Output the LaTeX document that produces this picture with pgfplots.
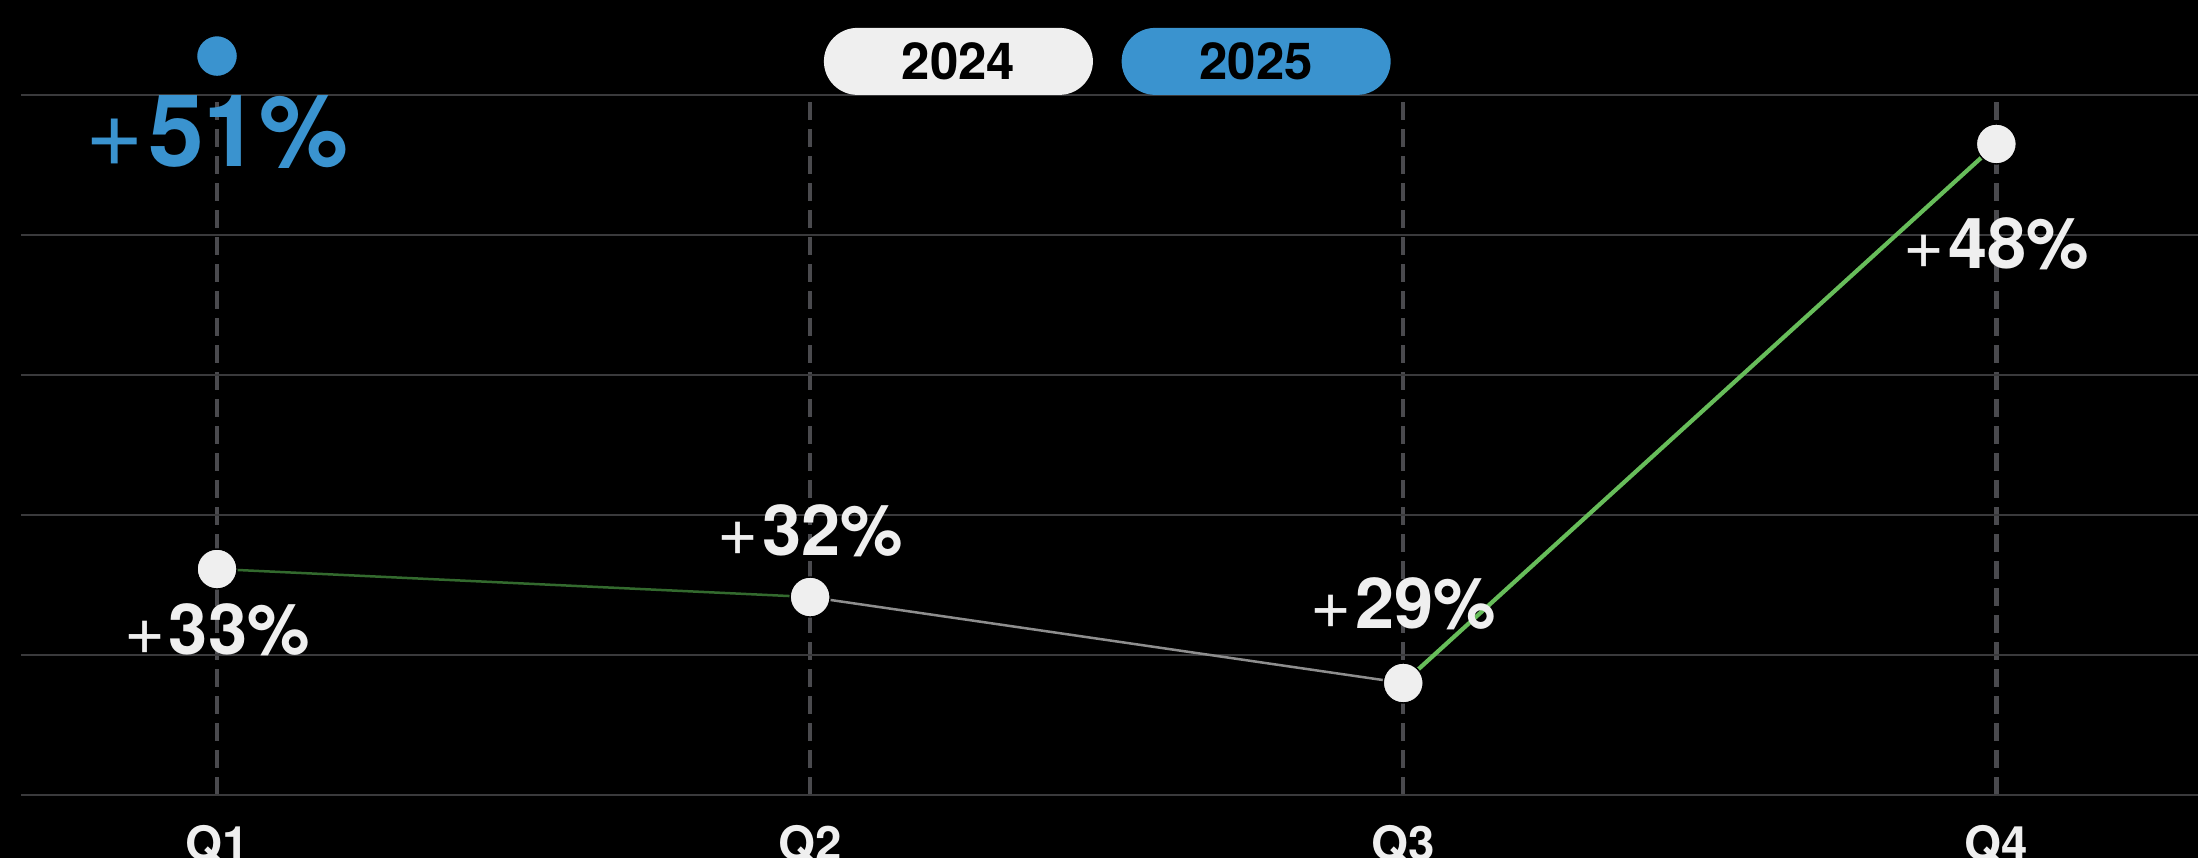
\documentclass[border=0pt]{standalone}
\usepackage{fontspec}
\setmainfont{TeX Gyre Heros}
\usepackage{pgfplots}
\pgfplotsset{compat=1.18}
\definecolor{gridc}{HTML}{3A3A3C}
\definecolor{dashc}{HTML}{4A4A4E}
\definecolor{wht}{HTML}{EFEFEF}
\definecolor{blu}{HTML}{3A93CF}
\definecolor{dkgreen}{HTML}{336A2E}
\definecolor{brgreen}{HTML}{67BD5A}
\definecolor{lgray}{HTML}{8E8E8E}
\newcommand{\lbl}[1]{{\fontsize{20}{23}\selectfont +\kern0.05em\textbf{#1\%}}}
\begin{document}
\begin{tikzpicture}
\fill[black] (0,0) rectangle (219.8mm,85.8mm);
\useasboundingbox (0,0) rectangle (219.8mm,85.8mm);
\clip (0,0) rectangle (219.8mm,85.8mm);
\begin{axis}[
  at={(2.1mm,6.3mm)}, anchor=south west,
  scale only axis, width=217.7mm, height=70mm,
  xmin=0.6695, xmax=4.34, ymin=25, ymax=50,
  clip=false,
  axis line style={draw=none},
  major tick length=0pt,
  xtick={1,2,3,4}, xticklabels={Q1,Q2,Q3,Q4},
  ytick={25,30,...,50}, yticklabels={},
  ymajorgrids, xmajorgrids,
  y grid style={color=gridc, line width=0.2mm},
  x grid style={color=dashc, line width=0.45mm, dash pattern=on 1.8mm off 0.9mm},
  xticklabel style={anchor=base, yshift=-6.6mm, font=\bfseries\fontsize{13.5}{15}\selectfont, text=wht},
]
\addplot[color=dkgreen, line width=0.25mm] coordinates {(1,33.07) (2,32.07)};
\addplot[color=lgray, line width=0.25mm] coordinates {(2,32.07) (3,29.0)};
\addplot[color=brgreen, line width=0.42mm] coordinates {(3,29.0) (4,48.25)};
\addplot[only marks, mark=*, mark size=2mm, mark options={fill=wht, draw=none}] coordinates {(1,33.07) (2,32.07) (3,29.0) (4,48.25)};
\addplot[only marks, mark=*, mark size=2.05mm, mark options={fill=blu, draw=none}] coordinates {(1,51.39)};
\node[anchor=base, text=wht, inner sep=0] at (axis cs:1,30.0) {\lbl{33}};
\node[anchor=base, text=wht, inner sep=0] at (axis cs:2,33.57) {\lbl{32}};
\node[anchor=base, text=wht, inner sep=0] at (axis cs:3,30.96) {\lbl{29}};
\node[anchor=base, text=wht, inner sep=0] at (axis cs:4,43.82) {\lbl{48}};
\node[anchor=base, text=blu, inner sep=0] at (axis cs:1,47.43) {{\fontsize{28.5}{32}\selectfont +\kern0.04em\textbf{51\%}}};
\node[fill=wht, rounded corners=3.35mm, minimum width=26.9mm, minimum height=6.7mm, inner sep=0, text=black, font=\bfseries\fontsize{14.5}{16}\selectfont] at (axis cs:2.250,51.2) {2024};
\node[fill=blu, rounded corners=3.35mm, minimum width=26.9mm, minimum height=6.7mm, inner sep=0, text=black, font=\bfseries\fontsize{14.5}{16}\selectfont] at (axis cs:2.752,51.2) {2025};
\end{axis}
\end{tikzpicture}
\end{document}
